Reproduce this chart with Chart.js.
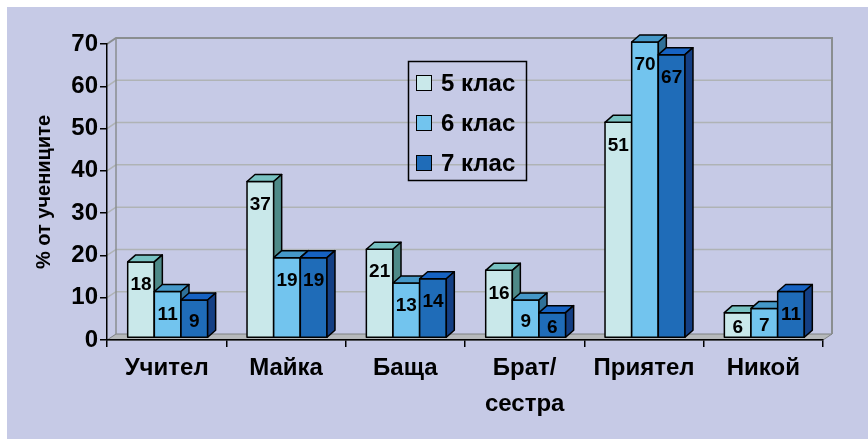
<!DOCTYPE html>
<html>
<head>
<meta charset="utf-8">
<script src="https://cdn.jsdelivr.net/npm/chart.js@4"></script>
<style>
  html, body { margin: 0; padding: 0; background: #fff; }
  canvas { display: block; }
</style>
</head>
<body>
<canvas id="chart" width="868" height="439"></canvas>
<script>
const categories = ["Учител", "Майка", "Баща", ["Брат/", "сестра"], "Приятел", "Никой"];
const seriesNames = ["5 клас", "6 клас", "7 клас"];
const grade5 = [18, 37, 21, 16, 51, 6];
const grade6 = [11, 19, 13, 9, 70, 7];
const grade7 = [9, 19, 14, 6, 67, 11];
const yMin = 0, yMax = 70, yStep = 10;

const FONT = "'Liberation Sans', Arial, sans-serif";
const BG = "#c6cae6";
// face colours per series: front / top / side
const faces = [
  { front: "#c9e8ea", top: "#78c2c2", side: "#4e8a88" },
  { front: "#72c4ee", top: "#4598c8", side: "#2f7098" },
  { front: "#1f6cb8", top: "#1662c2", side: "#143f84" },
];
// depth of walls and bars
const WX = 9, WY = -6;
const BX = 8, BY = -7;
const SX = 1, SY = -2; // bars sit a little behind the front edge

const scene3d = {
  id: "scene3d",
  beforeDraw(chart) {
    const ctx = chart.ctx;
    const { left, right, top, bottom } = chart.chartArea;
    const y = chart.scales.y;
    ctx.save();
    ctx.fillStyle = "#fff";
    ctx.fillRect(0, 0, chart.width, chart.height);
    ctx.fillStyle = BG;
    ctx.fillRect(7, 7, chart.width - 7, chart.height - 7);

    // floor
    ctx.beginPath();
    ctx.moveTo(left, bottom);
    ctx.lineTo(right, bottom);
    ctx.lineTo(right + WX, bottom + WY);
    ctx.lineTo(left + WX, bottom + WY);
    ctx.closePath();
    ctx.fillStyle = "#b6b9bb";
    ctx.fill();
    ctx.strokeStyle = "#7f8284";
    ctx.lineWidth = 1;
    ctx.stroke();

    // gridlines on left + back wall
    ctx.strokeStyle = "#afb3b5";
    ctx.lineWidth = 1.5;
    for (let v = yMin + yStep; v < yMax; v += yStep) {
      const py = y.getPixelForValue(v);
      ctx.beginPath();
      ctx.moveTo(left, py);
      ctx.lineTo(left + WX, py + WY);
      ctx.lineTo(right + WX, py + WY);
      ctx.stroke();
    }

    // wall edges
    ctx.strokeStyle = "#8a8e90";
    ctx.lineWidth = 2;
    ctx.beginPath();
    ctx.moveTo(left, top);
    ctx.lineTo(left + WX, top + WY);
    ctx.lineTo(right + WX, top + WY);
    ctx.lineTo(right + WX, bottom + WY);
    ctx.stroke();
    ctx.lineWidth = 1.5;
    ctx.beginPath();
    ctx.moveTo(left + WX, top + WY);
    ctx.lineTo(left + WX, bottom + WY);
    ctx.stroke();
    ctx.restore();
  },
  beforeDatasetDraw() {
    return false; // bars are drawn as 3D boxes below
  },
  afterDatasetsDraw(chart) {
    const ctx = chart.ctx;
    const metas = chart.data.datasets.map((d, i) => chart.getDatasetMeta(i));
    ctx.save();
    ctx.lineWidth = 1.5;
    ctx.strokeStyle = "#000";
    ctx.lineJoin = "round";
    const poly = (pts, fill) => {
      ctx.beginPath();
      ctx.moveTo(pts[0][0], pts[0][1]);
      for (let k = 1; k < pts.length; k++) ctx.lineTo(pts[k][0], pts[k][1]);
      ctx.closePath();
      ctx.fillStyle = fill;
      ctx.fill();
      ctx.stroke();
    };
    for (let j = 0; j < categories.length; j++) {
      metas.forEach((meta, i) => {
        const el = meta.data[j];
        const p = el.getProps(["x", "y", "base", "width"], true);
        const x0 = p.x - p.width / 2 + SX, x1 = p.x + p.width / 2 + SX;
        const yt = p.y + SY, yb = p.base + SY;
        const f = faces[i];
        poly([[x0, yt], [x1, yt], [x1, yb], [x0, yb]], f.front);
        poly([[x0, yt], [x0 + BX, yt + BY], [x1 + BX, yt + BY], [x1, yt]], f.top);
        poly([[x1, yt], [x1 + BX, yt + BY], [x1 + BX, yb + BY], [x1, yb]], f.side);
      });
    }
    // value labels, inside the top end of each bar
    ctx.fillStyle = "#000";
    ctx.font = "bold 19px " + FONT;
    ctx.textAlign = "center";
    ctx.textBaseline = "middle";
    metas.forEach((meta, i) => {
      meta.data.forEach((el, j) => {
        const p = el.getProps(["x", "y", "base"], true);
        const off = Math.min(23, (p.base - p.y) / 2 + 3);
        ctx.fillText(String(chart.data.datasets[i].data[j]), p.x + SX, p.y + SY + off);
      });
    });
    ctx.restore();
  },
  afterDraw(chart) {
    const ctx = chart.ctx;
    ctx.save();
    ctx.strokeStyle = "#000";
    ctx.lineWidth = 1.5;
    ctx.strokeRect(408.5, 61.5, 118, 119);
    const rows = [83, 123, 163];
    ctx.font = "bold 24px " + FONT;
    ctx.textAlign = "left";
    ctx.textBaseline = "middle";
    seriesNames.forEach((name, i) => {
      ctx.fillStyle = faces[i].front;
      ctx.fillRect(416.5, rows[i] - 7.5, 15, 15);
      ctx.lineWidth = 1;
      ctx.strokeRect(416.5, rows[i] - 7.5, 15, 15);
      ctx.fillStyle = "#000";
      ctx.fillText(name, 441, rows[i] + 1);
    });
    ctx.restore();
  },
};

new Chart(document.getElementById("chart").getContext("2d"), {
  type: "bar",
  data: {
    labels: categories,
    datasets: [
      { label: seriesNames[0], data: grade5, backgroundColor: faces[0].front },
      { label: seriesNames[1], data: grade6, backgroundColor: faces[1].front },
      { label: seriesNames[2], data: grade7, backgroundColor: faces[2].front },
    ],
  },
  options: {
    responsive: false,
    animation: false,
    events: [],
    categoryPercentage: 0.67,
    barPercentage: 1.0,
    layout: { padding: { top: 44, right: 45, left: 0, bottom: 0 } },
    plugins: { legend: { display: false }, tooltip: { enabled: false } },
    scales: {
      x: {
        afterFit(scale) { scale.height = 99; },
        grid: { display: true, drawOnChartArea: false, tickLength: 7, color: "#000", lineWidth: 1.5, offset: true },
        border: { display: true, color: "#000", width: 1.5 },
        ticks: {
          color: "#000",
          font: { family: FONT, size: 24, weight: "bold", lineHeight: 1.5 },
          padding: 3,
          maxRotation: 0,
          autoSkip: false,
        },
      },
      y: {
        min: yMin,
        max: yMax,
        afterFit(scale) { scale.width = 107; },
        grid: { display: true, drawOnChartArea: false, tickLength: 7, color: "#000", lineWidth: 1.5 },
        border: { display: true, color: "#000", width: 1.5 },
        ticks: {
          stepSize: yStep,
          color: "#000",
          padding: 2,
          font: { family: FONT, size: 24, weight: "bold" },
        },
        title: {
          display: true,
          text: "% от учениците",
          color: "#000",
          font: { family: FONT, size: 20, weight: "bold" },
          padding: { top: 32, bottom: 0 },
        },
      },
    },
  },
  plugins: [scene3d],
});
</script>
</body>
</html>
